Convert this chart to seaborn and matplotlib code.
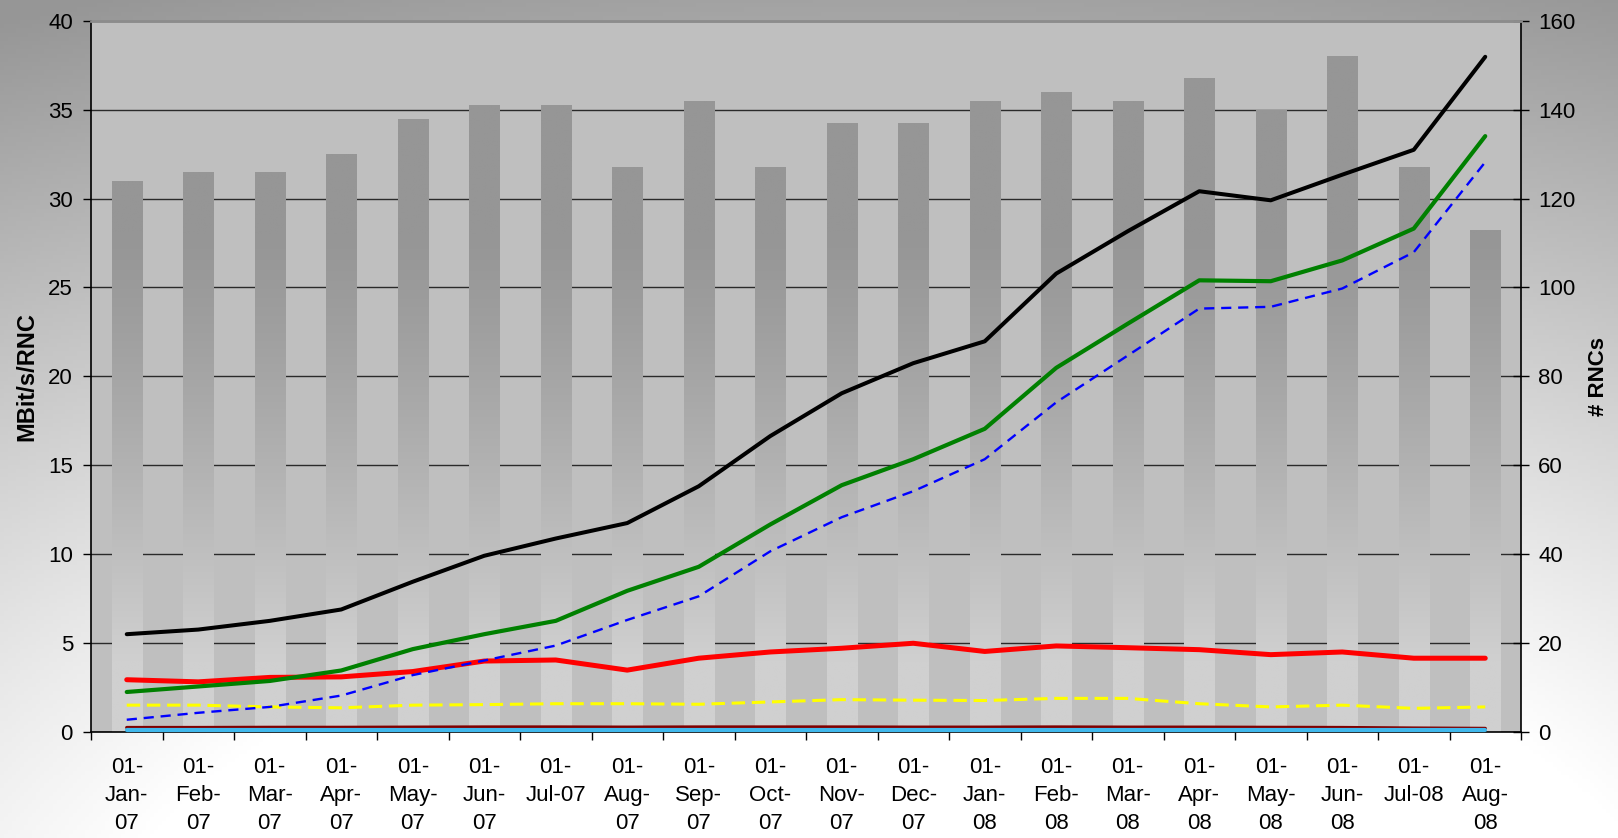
import numpy as np
import pandas as pd
import seaborn as sns
import matplotlib
matplotlib.use('Agg')
import matplotlib.pyplot as plt
from matplotlib.ticker import FixedLocator, FixedFormatter, NullFormatter

plt.rcParams['font.family'] = ['Liberation Sans', 'DejaVu Sans']

# Donnees
months = ['01-Jan-07', '01-Feb-07', '01-Mar-07', '01-Apr-07', '01-May-07', '01-Jun-07',
          '01-Jul-07', '01-Aug-07', '01-Sep-07', '01-Oct-07', '01-Nov-07', '01-Dec-07',
          '01-Jan-08', '01-Feb-08', '01-Mar-08', '01-Apr-08', '01-May-08', '01-Jun-08',
          '01-Jul-08', '01-Aug-08']
tick_labels = ['01-\nJan-\n07', '01-\nFeb-\n07', '01-\nMar-\n07', '01-\nApr-\n07', '01-\nMay-\n07',
               '01-\nJun-\n07', '01-\nJul-07\n', '01-\nAug-\n07', '01-\nSep-\n07', '01-\nOct-\n07',
               '01-\nNov-\n07', '01-\nDec-\n07', '01-\nJan-\n08', '01-\nFeb-\n08', '01-\nMar-\n08',
               '01-\nApr-\n08', '01-\nMay-\n08', '01-\nJun-\n08', '01-\nJul-08\n', '01-\nAug-\n08']

rnc_count = [124, 126, 126, 130, 138, 141, 141, 127, 142, 127,
             137, 137, 142, 144, 142, 147, 140, 152, 127, 113]

black_series = [5.5, 5.76, 6.25, 6.89, 8.45, 9.91, 10.88, 11.75, 13.82, 16.64,
                19.05, 20.74, 21.97, 25.78, 28.16, 30.41, 29.9, 31.34, 32.74, 37.97]
green_series = [2.25, 2.56, 2.87, 3.46, 4.66, 5.5, 6.25, 7.94, 9.29, 11.67,
                13.88, 15.34, 17.05, 20.48, 22.96, 25.4, 25.35, 26.52, 28.31, 33.51]
blue_series = [0.69, 1.08, 1.41, 2.05, 3.2, 4.02, 4.86, 6.3, 7.63, 10.16,
               12.08, 13.54, 15.34, 18.54, 21.17, 23.81, 23.91, 24.94, 26.98, 32.05]
red_series = [2.94, 2.82, 3.07, 3.1, 3.4, 3.99, 4.05, 3.48, 4.15, 4.5,
              4.71, 4.99, 4.53, 4.84, 4.74, 4.63, 4.35, 4.5, 4.15, 4.15]
yellow_series = [1.51, 1.51, 1.41, 1.36, 1.51, 1.54, 1.59, 1.59, 1.56, 1.69,
                 1.82, 1.79, 1.77, 1.89, 1.89, 1.59, 1.41, 1.51, 1.33, 1.41]
darkred_series = [0.25, 0.25, 0.26, 0.26, 0.27, 0.28, 0.28, 0.27, 0.28, 0.28,
                  0.28, 0.27, 0.27, 0.28, 0.27, 0.27, 0.26, 0.25, 0.22, 0.2]
cyan_series = [0.09, 0.09, 0.09, 0.09, 0.09, 0.09, 0.09, 0.09, 0.09, 0.09,
               0.09, 0.09, 0.09, 0.09, 0.09, 0.09, 0.09, 0.09, 0.09, 0.09]

W, H = 1618, 838
fig = plt.figure(figsize=(W / 100, H / 100), dpi=100)

# fond degrade de la figure
bg = fig.add_axes([0, 0, 1, 1], zorder=-10)
yy, xx = np.mgrid[0:1:200j, 0:1:400j]
d = np.sqrt((xx - 0.55) ** 2 + (yy + 0.2) ** 2)
g = (255 - 105 * np.clip((d - 0.5) / 0.8, 0, 1)) / 255
bg.imshow(np.dstack([g, g, g]), extent=[0, 1, 0, 1], aspect='auto', origin='lower')
bg.axis('off')

ax = fig.add_axes([91 / W, 1 - 732 / H, 1430 / W, 711.3 / H])
ax2 = ax.twinx()
ax.set_zorder(2)
ax2.set_zorder(1)
ax.patch.set_visible(False)
ax2.patch.set_visible(True)
ax2.patch.set_facecolor('#bfbfbf')

# barres (# RNCs) sur l'axe de droite
df = pd.DataFrame({'month': months, 'rnc': rnc_count})
sns.barplot(data=df, x='month', y='rnc', order=months, ax=ax2, width=0.42,
            color='#969696', saturation=1, errorbar=None)

ax2.set_ylim(0, 160)
for p in list(ax2.patches):
    x0, w, h = p.get_x(), p.get_width(), p.get_height()
    v = np.linspace(0, h, 300) / 4.0  # en unites de l'axe gauche
    s = (1 - np.clip((v - 4) / 24, 0, 1)) ** 1.2
    gr = (150 + 58 * s) / 255
    img = np.dstack([gr, gr, gr]).reshape(300, 1, 3)
    im = ax2.imshow(img, extent=[x0, x0 + w, 0, h], aspect='auto', origin='lower',
                    zorder=p.get_zorder(), interpolation='bilinear')
    im.set_clip_path(p)
    p.set_facecolor('none')
    p.set_edgecolor('none')

# courbes sur l'axe de gauche
series = [
    (darkred_series, '#800000', 2.4, '-'),
    (cyan_series, '#40b8ec', 3.0, '-'),
    (yellow_series, '#ffff00', 2.2, (0, (4.4, 2.2))),
    (red_series, '#ff0000', 3.6, '-'),
    (green_series, '#008000', 3.0, '-'),
    (blue_series, '#0000ff', 1.7, (0, (4.3, 2.9))),
    (black_series, '#000000', 2.9, '-'),
]
for vals, col, lw, ls in series:
    sns.lineplot(x=months, y=vals, ax=ax, color=col, linewidth=lw, linestyle=ls,
                 sort=False, solid_capstyle='round', solid_joinstyle='round',
                 zorder=3, clip_on=False)

ax.set_xlim(-0.5, len(months) - 0.5)
ax.set_ylim(0, 40)
ax.set_yticks(range(0, 41, 5))
ax2.set_yticks(range(0, 161, 20))
ax2.set_ylim(0, 160)

ax2.grid(axis='y', color='#2a2a2a', linewidth=1)
ax2.set_axisbelow(True)
ax.grid(False)
ax2.grid(axis='x', visible=False)

ax.xaxis.set_major_locator(FixedLocator(np.arange(-0.5, len(months), 1)))
ax.xaxis.set_major_formatter(NullFormatter())
ax.xaxis.set_minor_locator(FixedLocator(np.arange(len(months))))
ax.xaxis.set_minor_formatter(FixedFormatter(tick_labels))
ax.tick_params(axis='x', which='major', direction='out', length=6, width=1)
ax.tick_params(axis='x', which='minor', length=0, pad=18, labelsize=16)
for t in ax.xaxis.get_minorticklabels():
    t.set_verticalalignment('top')
    t.set_linespacing(1.45)
ax.tick_params(axis='y', direction='out', length=6, width=1, pad=7, labelsize=16)
ax2.tick_params(axis='y', direction='inout', length=11, width=1, pad=7, labelsize=16)

for sp in ['left', 'bottom']:
    ax.spines[sp].set_color('black')
    ax.spines[sp].set_linewidth(1.2)
    ax.spines[sp].set_zorder(2.5)
ax.spines['right'].set_visible(False)
ax.spines['top'].set_color('#8c8c8c')
ax.spines['top'].set_linewidth(2)
for sp in ['left', 'top', 'bottom']:
    ax2.spines[sp].set_visible(False)
ax2.spines['right'].set_color('black')
ax2.spines['right'].set_linewidth(1.2)

ax.set_xlabel('')
ax2.set_xlabel('')
ax.set_ylabel('MBit/s/RNC', fontsize=17, fontweight='bold')
ax.yaxis.set_label_coords(-0.037, 0.5)
ax2.set_ylabel('# RNCs', fontsize=16, fontweight='bold')
ax2.yaxis.set_label_coords(1.047, 0.5)

fig.savefig('out.png', dpi=100)
